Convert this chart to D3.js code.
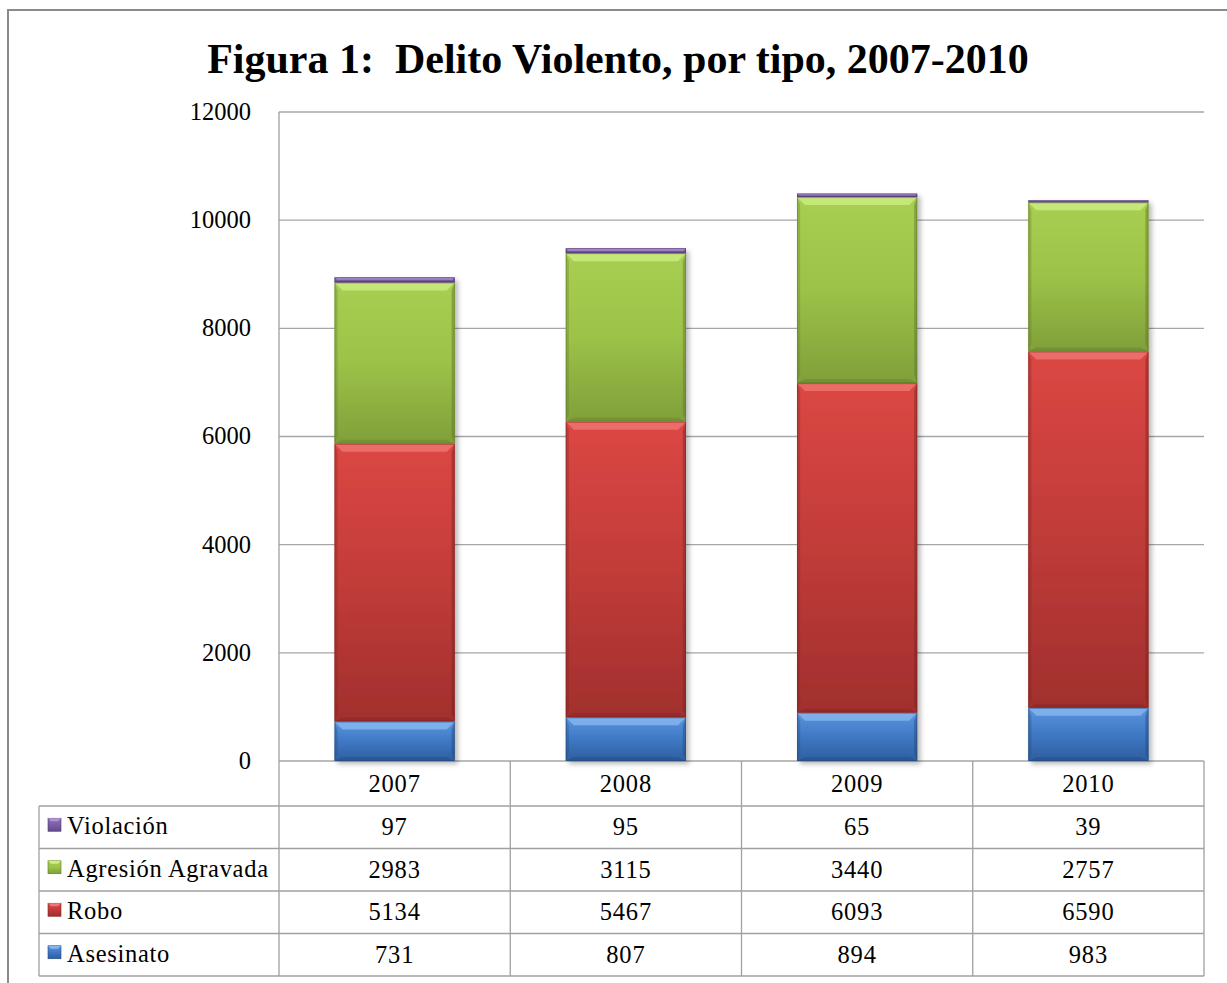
<!DOCTYPE html>
<html>
<head>
<meta charset="utf-8">
<script src="https://cdn.jsdelivr.net/npm/d3@7"></script>
<style>
  body { margin: 0; background: #fff; }
  svg text { font-family: "Liberation Serif", "Times New Roman", serif; fill: #000; }
</style>
</head>
<body>
<div class="canvas"></div>
<script>
// data
const years = ['2007', '2008', '2009', '2010'];
const series = ['Asesinato', 'Robo', 'Agresión Agravada', 'Violación'];
const asesinato = [731, 807, 894, 983];
const robo = [5134, 5467, 6093, 6590];
const agresion = [2983, 3115, 3440, 2757];
const violacion = [97, 95, 65, 39];
const yTicks = [0, 2000, 4000, 6000, 8000, 10000, 12000];

const values = { 'Asesinato': asesinato, 'Robo': robo, 'Agresión Agravada': agresion, 'Violación': violacion };
const rows = years.map((y, i) => {
    const r = { year: y };
    series.forEach(s => r[s] = values[s][i]);
    return r;
});

const width = 1227, height = 983;
const plot = { left: 279, right: 1204, top: 112, bottom: 761 };
const headH = 45, rowH = 42.5;
const tableLeft = 39;
const fs = 24.5;

const colours = {
    'Asesinato':        { top: '#5b95df', mid: '#3f78c4', bot: '#2f5e9e', light: '#86b6ef', edge: '#24497c' },
    'Robo':             { top: '#dc4744', mid: '#c13c39', bot: '#a12f2d', light: '#f07772', edge: '#7e2322' },
    'Agresión Agravada':{ top: '#a8cf52', mid: '#9cc248', bot: '#809f3a', light: '#cdee82', edge: '#5f7829' },
    'Violación':        { top: '#8e6fba', mid: '#7c5ea6', bot: '#634a88', light: '#ad94d4', edge: '#4a366a' }
};

const svg = d3.select('.canvas')
    .append('svg')
    .attr('width', width)
    .attr('height', height);

const defs = svg.append('defs');
series.forEach((s, k) => {
    const g = defs.append('linearGradient')
        .attr('id', 'grad' + k)
        .attr('x1', 0).attr('y1', 0).attr('x2', 0).attr('y2', 1);
    g.append('stop').attr('offset', '0%').attr('stop-color', colours[s].top);
    g.append('stop').attr('offset', '50%').attr('stop-color', colours[s].mid);
    g.append('stop').attr('offset', '100%').attr('stop-color', colours[s].bot);
});
const shadow = defs.append('filter').attr('id', 'shadow')
    .attr('x', '-10%').attr('y', '-10%').attr('width', '130%').attr('height', '130%');
shadow.append('feDropShadow')
    .attr('dx', 3).attr('dy', 3).attr('stdDeviation', 2.5)
    .attr('flood-color', '#000').attr('flood-opacity', 0.28);

// outer frame
svg.append('rect')
    .attr('x', 8).attr('y', 10)
    .attr('width', 1300).attr('height', 1100)
    .attr('fill', 'none')
    .attr('stroke', '#8a8a8a')
    .attr('stroke-width', 2);

// title
svg.append('text')
    .attr('x', 618).attr('y', 73)
    .attr('text-anchor', 'middle')
    .attr('font-size', 42)
    .attr('font-weight', 'bold')
    .attr('xml:space', 'preserve')
    .text('Figura 1:  Delito Violento, por tipo, 2007-2010');

const x = d3.scaleBand()
    .domain(years)
    .range([plot.left, plot.right])
    .paddingInner(0.48)
    .paddingOuter(0.24);

const band = d3.scaleBand().domain(years).range([plot.left, plot.right]);

const y = d3.scaleLinear()
    .domain([0, 12000])
    .range([plot.bottom, plot.top]);

// gridlines
svg.append('g')
    .selectAll('line')
    .data(yTicks)
    .enter().append('line')
        .attr('x1', plot.left).attr('x2', plot.right)
        .attr('y1', d => y(d)).attr('y2', d => y(d))
        .attr('stroke', '#a6a6a6')
        .attr('stroke-width', 1.3);

// y axis labels
const yAxis = d3.axisLeft(y).tickValues(yTicks).tickFormat(d3.format('d')).tickSize(0).tickPadding(28);
const yAxisGroup = svg.append('g')
    .attr('transform', `translate(${plot.left}, 0)`)
    .call(yAxis);
yAxisGroup.select('.domain').remove();
yAxisGroup.selectAll('text')
    .attr('font-size', fs)
    .attr('font-family', '"Liberation Serif", serif')
    .attr('fill', '#000')
    .attr('dy', '0.3em');

// stacked bars
const stack = d3.stack().keys(series);
const stacked = stack(rows);

const barGroup = svg.append('g').attr('filter', 'url(#shadow)');

stacked.forEach((layer, k) => {
    const s = series[k];
    const c = colours[s];
    layer.forEach(d => {
        const x0 = x(d.data.year), w = x.bandwidth();
        const y0 = y(d[1]), h = y(d[0]) - y(d[1]);
        const b = Math.min(8, h / 2);
        const seg = barGroup.append('g');
        seg.append('rect')
            .attr('x', x0).attr('y', y0)
            .attr('width', w).attr('height', h)
            .attr('fill', `url(#grad${k})`);
        // top bevel
        seg.append('polygon')
            .attr('points', [[x0, y0], [x0 + w, y0], [x0 + w - b, y0 + b], [x0 + b, y0 + b]].join(' '))
            .attr('fill', c.light).attr('opacity', 0.8);
        // side bevels
        seg.append('polygon')
            .attr('points', [[x0, y0], [x0 + b * 0.4, y0 + b], [x0 + b * 0.4, y0 + h - b], [x0, y0 + h]].join(' '))
            .attr('fill', c.edge).attr('opacity', 0.3);
        seg.append('polygon')
            .attr('points', [[x0 + w, y0], [x0 + w - b * 0.4, y0 + b], [x0 + w - b * 0.4, y0 + h - b], [x0 + w, y0 + h]].join(' '))
            .attr('fill', c.edge).attr('opacity', 0.45);
        // bottom bevel
        seg.append('polygon')
            .attr('points', [[x0, y0 + h], [x0 + w, y0 + h], [x0 + w - b, y0 + h - b * 0.5], [x0 + b, y0 + h - b * 0.5]].join(' '))
            .attr('fill', c.edge).attr('opacity', 0.35);
        seg.append('rect')
            .attr('x', x0 + 0.5).attr('y', y0 + 0.5)
            .attr('width', w - 1).attr('height', Math.max(0, h - 1))
            .attr('fill', 'none')
            .attr('stroke', c.edge).attr('stroke-opacity', 0.5)
            .attr('stroke-width', 1);
    });
});

// data table
const table = svg.append('g');
const lineColour = '#a0a0a0';
const rowTop = i => plot.bottom + headH + rowH * i;
const tableBottom = rowTop(4);

// vertical lines
years.forEach(yr => {
    table.append('line')
        .attr('x1', band(yr)).attr('x2', band(yr))
        .attr('y1', band(yr) === plot.left ? plot.top : plot.bottom).attr('y2', tableBottom)
        .attr('stroke', lineColour).attr('stroke-width', 1.3);
});
table.append('line')
    .attr('x1', plot.right).attr('x2', plot.right)
    .attr('y1', plot.bottom).attr('y2', tableBottom)
    .attr('stroke', lineColour).attr('stroke-width', 1.3);
table.append('line')
    .attr('x1', tableLeft).attr('x2', tableLeft)
    .attr('y1', rowTop(0)).attr('y2', tableBottom)
    .attr('stroke', lineColour).attr('stroke-width', 1.3);
// horizontal lines
d3.range(0, 5).forEach(i => {
    table.append('line')
        .attr('x1', tableLeft).attr('x2', plot.right)
        .attr('y1', rowTop(i)).attr('y2', rowTop(i))
        .attr('stroke', lineColour).attr('stroke-width', 1.3);
});

// header years
table.selectAll('.yr')
    .data(years)
    .enter().append('text')
        .attr('class', 'yr')
        .attr('x', d => band(d) + band.bandwidth() / 2)
        .attr('y', plot.bottom + headH / 2 + 8)
        .attr('text-anchor', 'middle')
        .attr('font-size', fs)
        .attr('letter-spacing', 0.8)
        .text(d => d);

// rows, top to bottom: reverse stack order
const tableSeries = series.slice().reverse();
tableSeries.forEach((s, r) => {
    const k = series.indexOf(s);
    const cy = rowTop(r) + rowH / 2;
    table.append('rect')
        .attr('x', 48).attr('y', cy - 9)
        .attr('width', 13).attr('height', 13)
        .attr('fill', `url(#grad${k})`)
        .attr('stroke', colours[s].edge).attr('stroke-width', 0.6);
    table.append('polygon')
        .attr('points', [[48, cy - 9], [61, cy - 9], [58, cy - 6], [51, cy - 6]].join(' '))
        .attr('fill', colours[s].light);
    table.append('text')
        .attr('x', 67).attr('y', cy + 7)
        .attr('font-size', fs)
        .attr('letter-spacing', 0.7)
        .text(s);
    years.forEach((yr, i) => {
        table.append('text')
            .attr('x', band(yr) + band.bandwidth() / 2)
            .attr('y', cy + 8)
            .attr('text-anchor', 'middle')
            .attr('font-size', fs)
            .attr('letter-spacing', 0.8)
            .text(values[s][i]);
    });
});
</script>
</body>
</html>
